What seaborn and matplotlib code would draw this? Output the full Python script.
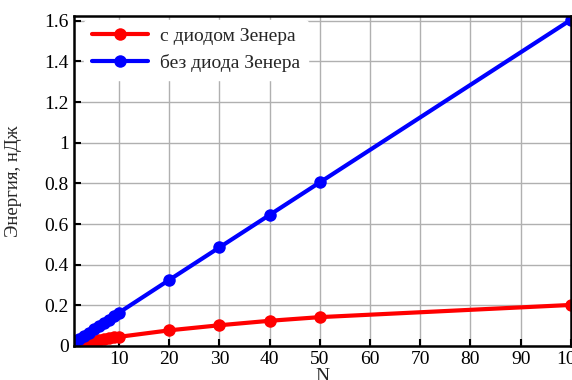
import numpy as np
import pandas as pd
import matplotlib
matplotlib.use("Agg")
import matplotlib.pyplot as plt
import seaborn as sns

# Data
n_values = [1, 2, 3, 4, 5, 6, 7, 8, 9, 10, 20, 30, 40, 50, 100]
with_zener = [0.005, 0.010, 0.015, 0.020, 0.025, 0.030, 0.034, 0.038, 0.042, 0.045,
              0.077, 0.102, 0.124, 0.142, 0.202]
without_zener = [0.020, 0.035, 0.050, 0.066, 0.082, 0.098, 0.114, 0.130, 0.146, 0.164,
                 0.325, 0.485, 0.645, 0.805, 1.605]
series_names = ["с диодом Зенера", "без диода Зенера"]

df = pd.DataFrame({
    "N": n_values * 2,
    "E": with_zener + without_zener,
    "series": [series_names[0]] * len(n_values) + [series_names[1]] * len(n_values),
})

sns.set_theme(style="ticks")
plt.rcParams["font.family"] = ["Liberation Serif", "DejaVu Serif"]
plt.rcParams["font.size"] = 14

fig = plt.figure(figsize=(5.72, 3.80), dpi=100)
ax = fig.add_axes([0.129, 0.0895, 0.869, 0.869])

sns.lineplot(data=df, x="N", y="E", hue="series", palette=["#ff0000", "#0000ff"],
             marker="o", markersize=9, markeredgewidth=0, linewidth=3,
             ax=ax, legend=True, zorder=3)

ax.set_xlim(1, 100)
ax.set_ylim(0, 1.625)
ax.set_xticks([10, 20, 30, 40, 50, 60, 70, 80, 90, 100])
ax.set_yticks([0, 0.2, 0.4, 0.6, 0.8, 1.0, 1.2, 1.4, 1.6])
ax.set_yticklabels(["0", "0.2", "0.4", "0.6", "0.8", "1", "1.2", "1.4", "1.6"])
ax.grid(True, color="#b0b0b0", linewidth=1)
ax.tick_params(direction="in", length=5, width=1.5, labelsize=14, colors="black")
for s in ax.spines.values():
    s.set_color("black")
    s.set_linewidth(1.8)
    s.set_zorder(4)

ax.set_xlabel("N", fontsize=14, labelpad=0)
ax.set_ylabel("Энергия, нДж", fontsize=13.5, labelpad=16)

leg = ax.legend(loc="upper left", bbox_to_anchor=(0.013, 1.0), frameon=True,
                fontsize=14, handlelength=2.9, handletextpad=0.6,
                borderaxespad=0.2, labelspacing=0.45)
leg.get_frame().set_edgecolor("white")
leg.get_frame().set_facecolor("white")
leg.get_frame().set_alpha(1)

fig.savefig("out.png", dpi=100)
